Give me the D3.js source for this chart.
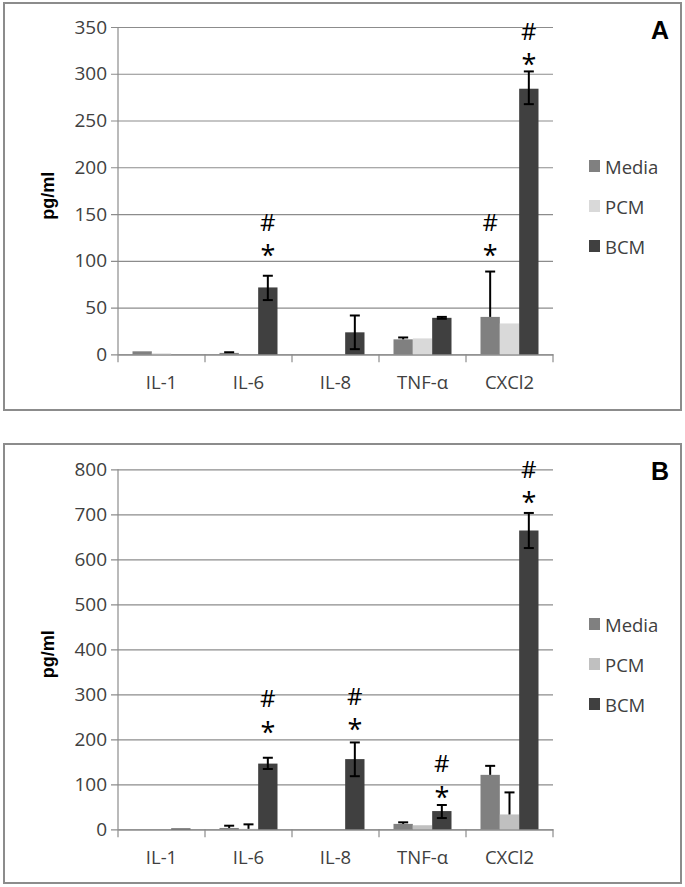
<!DOCTYPE html>
<html>
<head>
<meta charset="utf-8">
<script src="https://cdnjs.cloudflare.com/ajax/libs/d3/7.8.5/d3.min.js"></script>
<style>
  html, body { margin: 0; padding: 0; background: #fff; }
  svg { display: block; }
  text { font-family: "Open Sans", "Liberation Sans", sans-serif; }
</style>
</head>
<body>
<svg id="chart" width="685" height="887"></svg>
<script>
// ---------- data ----------
const categories = ["IL-1", "IL-6", "IL-8", "TNF-\u03b1", "CXCl2"];
const seriesNames = ["Media", "PCM", "BCM"];

// Panel A
const aTicks = [0, 50, 100, 150, 200, 250, 300, 350];
const aMedia = [3.2, 1.5, 0, 16, 40];
const aPCM = [1, 0, 0, 17, 33];
const aBCM = [0, 71.5, 23.5, 39, 284];
const aMediaHi = [null, 2.2, null, 18, 88.5];
const aMediaLo = [null, null, null, null, null];
const aPCMHi = [null, null, null, null, null];
const aPCMLo = [null, null, null, null, null];
const aBCMHi = [null, 84, 41.5, 40, 302.5];
const aBCMLo = [null, 58, 5.5, 38, 267.5];
const aMarks = [
  { cat: "IL-6", series: "BCM", star: 112.5, hash: 141.5 },
  { cat: "CXCl2", series: "Media", star: 112.5, hash: 141.5 },
  { cat: "CXCl2", series: "BCM", star: 316, hash: 346 }
];

// Panel B
const bTicks = [0, 100, 200, 300, 400, 500, 600, 700, 800];
const bMedia = [0, 3, 0, 12, 121];
const bPCM = [0, 1, 0, 9, 33];
const bBCM = [2, 146, 156, 40.5, 664];
const bMediaHi = [null, 8, null, 15.5, 141];
const bMediaLo = [null, null, null, null, null];
const bPCMHi = [null, 11, null, null, 82];
const bPCMLo = [null, null, null, null, null];
const bBCMHi = [null, 159, 193, 54, 703];
const bBCMLo = [null, 134, 118, 25, 625];
const bMarks = [
  { cat: "IL-6", series: "BCM", star: 229.5, hash: 292 },
  { cat: "IL-8", series: "BCM", star: 236, hash: 298 },
  { cat: "TNF-\u03b1", series: "BCM", star: 85, hash: 148 },
  { cat: "CXCl2", series: "BCM", star: 739, hash: 801 }
];

const colorsA = ["#808080", "#d9d9d9", "#404040"];
const colorsB = ["#808080", "#c0c0c0", "#404040"];

// ---------- drawing ----------
const svg = d3.select("#chart");

function drawPanel(opt) {
  const g = svg.append("g");
  // frame
  g.append("rect")
    .attr("x", opt.frame[0]).attr("y", opt.frame[1])
    .attr("width", opt.frame[2]).attr("height", opt.frame[3])
    .attr("fill", "#fff").attr("stroke", "#8c8c8c").attr("stroke-width", 2);

  const x0 = d3.scaleBand().domain(categories).range([118, 553]).paddingInner(0).paddingOuter(0);
  const x1 = d3.scaleBand().domain(seriesNames).range([14.5, x0.bandwidth() - 14.5]).padding(0);
  const y = d3.scaleLinear().domain([0, opt.max]).range([opt.y0, opt.yTop]);

  // gridlines + y axis
  const yAxis = d3.axisLeft(y).tickValues(opt.ticks).tickSize(-(553 - 118)).tickSizeOuter(0).tickPadding(10);
  const ya = g.append("g").attr("transform", "translate(118,0)").call(yAxis);
  ya.select(".domain").remove();
  ya.selectAll(".tick line").attr("stroke", "#8c8c8c").attr("stroke-width", 1.2).attr("x1", -7);
  ya.selectAll(".tick text").attr("font-size", 19).attr("fill", "#404040").attr("x", -11)
    .style("font-family", "'Open Sans', sans-serif");
  g.append("line").attr("x1", 118).attr("x2", 118).attr("y1", opt.yTop).attr("y2", opt.y0)
    .attr("stroke", "#8c8c8c").attr("stroke-width", 1.2);

  // x axis
  const xa = g.append("g").attr("transform", `translate(0,${opt.y0})`)
    .call(d3.axisBottom(x0).tickSize(0).tickPadding(22));
  xa.select(".domain").attr("stroke", "#8c8c8c").attr("stroke-width", 1.2);
  xa.selectAll(".tick text").attr("font-size", 18.5).attr("fill", "#404040")
    .style("font-family", "'Open Sans', sans-serif");
  const bounds = categories.map(c => x0(c)).concat([553]);
  g.selectAll(".catTick").data(bounds).enter().append("line")
    .attr("x1", d => d).attr("x2", d => d)
    .attr("y1", opt.y0).attr("y2", opt.y0 + 8)
    .attr("stroke", "#8c8c8c").attr("stroke-width", 1.2);

  // bars
  const rows = [];
  opt.values.forEach((vals, si) => {
    vals.forEach((v, ci) => {
      rows.push({ cat: categories[ci], s: seriesNames[si], si, v, hi: opt.hi[si][ci], lo: opt.lo[si][ci] });
    });
  });
  g.selectAll(".bar").data(rows).enter().append("rect")
    .attr("x", d => x0(d.cat) + x1(d.s))
    .attr("width", x1.bandwidth())
    .attr("y", d => y(d.v))
    .attr("height", d => y(0) - y(d.v))
    .attr("fill", d => opt.colors[d.si]);

  // error bars
  const errs = rows.filter(d => d.hi !== null);
  const eg = g.append("g").attr("stroke", "#000").attr("stroke-width", 2);
  errs.forEach(d => {
    const cx = x0(d.cat) + x1(d.s) + x1.bandwidth() / 2;
    const lo = d.lo === null ? d.v : d.lo;
    eg.append("line").attr("x1", cx).attr("x2", cx).attr("y1", y(d.hi)).attr("y2", y(lo));
    eg.append("line").attr("x1", cx - 5).attr("x2", cx + 5).attr("y1", y(d.hi)).attr("y2", y(d.hi));
    if (d.lo !== null) {
      eg.append("line").attr("x1", cx - 5).attr("x2", cx + 5).attr("y1", y(d.lo)).attr("y2", y(d.lo));
    }
  });

  // significance marks
  opt.marks.forEach(m => {
    const cx = x0(m.cat) + x1(m.series) + x1.bandwidth() / 2;
    g.append("text").attr("x", cx).attr("y", y(m.star)).attr("text-anchor", "middle")
      .attr("dominant-baseline", "central").attr("font-size", 27).attr("fill", "#000")
      .attr("dy", 5).text("*");
    g.append("text").attr("x", cx).attr("y", y(m.hash)).attr("text-anchor", "middle")
      .attr("dominant-baseline", "central").attr("font-size", 24).attr("fill", "#000").text("#");
  });

  // y label
  g.append("text")
    .attr("transform", `translate(48,${(opt.yTop + opt.y0) / 2 + 5}) rotate(-90)`)
    .attr("text-anchor", "middle").attr("dominant-baseline", "central")
    .attr("font-size", 18).attr("font-weight", "bold").attr("fill", "#000")
    .style("font-family", "'Liberation Sans', Arial, sans-serif")
    .text("pg/ml");

  // legend
  const lg = g.append("g");
  seriesNames.forEach((s, i) => {
    const ly = opt.legendY[i];
    lg.append("rect").attr("x", 589).attr("y", ly - 6).attr("width", 11).attr("height", 12)
      .attr("fill", opt.colors[i]);
    lg.append("text").attr("x", 605).attr("y", ly).attr("dominant-baseline", "central")
      .attr("font-size", 18.5).attr("fill", "#404040").text(s);
  });

  // panel letter
  g.append("text").attr("x", 660).attr("y", opt.letterY).attr("text-anchor", "middle")
    .attr("dominant-baseline", "central").attr("font-size", 25).attr("font-weight", "bold")
    .style("font-family", "'Liberation Sans', Arial, sans-serif")
    .text(opt.letter);
}

drawPanel({
  frame: [4, 3, 677, 407],
  max: 350, ticks: aTicks, y0: 354.3, yTop: 27,
  values: [aMedia, aPCM, aBCM],
  hi: [aMediaHi, aPCMHi, aBCMHi], lo: [aMediaLo, aPCMLo, aBCMLo],
  colors: colorsA, marks: aMarks,
  legendY: [166, 206, 246], letter: "A", letterY: 30
});

drawPanel({
  frame: [4, 444, 677, 439],
  max: 800, ticks: bTicks, y0: 829.3, yTop: 469.3,
  values: [bMedia, bPCM, bBCM],
  hi: [bMediaHi, bPCMHi, bBCMHi], lo: [bMediaLo, bPCMLo, bBCMLo],
  colors: colorsB, marks: bMarks,
  legendY: [624, 664, 704], letter: "B", letterY: 471
});
</script>
</body>
</html>
